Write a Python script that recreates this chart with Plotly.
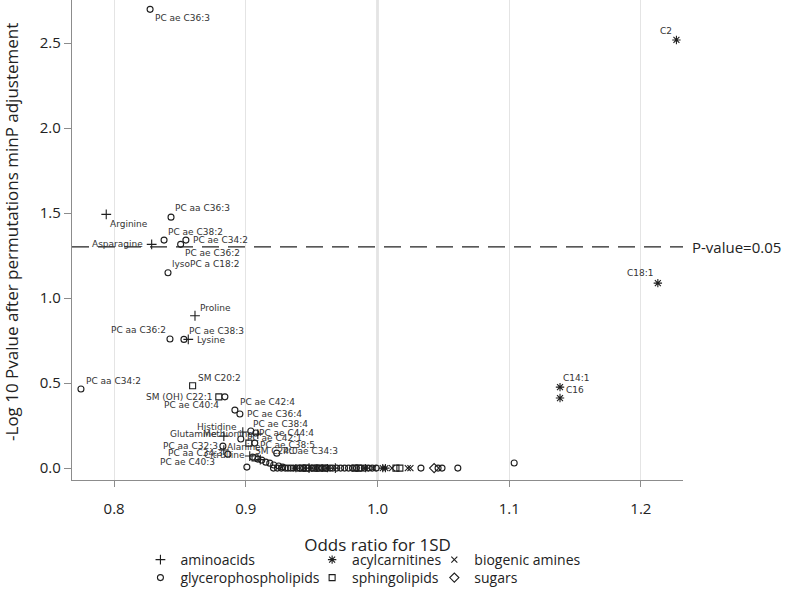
import plotly.graph_objects as go

# ---------------- data (odds ratio for 1SD, -log10 adjusted p) ----------------
aa_names = ["Arginine", "Asparagine", "Proline", "Lysine", "Histidine", "Methionine",
            "Glutamine", "Alanine", "Citrulline", "", "", ""]
aa_x = [0.794, 0.8285, 0.8614, 0.8563, 0.8977, 0.9091, 0.8833, 0.8833, 0.903, 0.911, 0.948, 0.968]
aa_y = [1.492, 1.316, 0.896, 0.757, 0.212, 0.200, 0.188, 0.106, 0.071, 0.050, 0.0, 0.0]

ac_names = ["C2", "C18:1", "C14:1", "C16", "", "", "", "", ""]
ac_x = [1.227, 1.2129, 1.1386, 1.1386, 0.938, 0.962, 0.991, 1.004, 1.006]
ac_y = [2.518, 1.088, 0.476, 0.412, 0.0, 0.0, 0.0, 0.0, 0.0]

ba_names = ["", "", "", ""]
ba_x = [0.997, 1.011, 1.023, 1.025]
ba_y = [0.0, 0.0, 0.0, 0.0]

gp_names = ["PC ae C36:3", "PC aa C36:3", "PC ae C38:2", "PC ae C34:2", "PC ae C36:2",
            "lysoPC a C18:2", "PC aa C36:2", "PC ae C38:3", "PC aa C34:2", "PC ae C40:4",
            "PC ae C42:4", "PC ae C36:4", "PC ae C38:4", "PC ae C44:4", "PC ae C42:1",
            "PC ae C38:5", "PC aa C32:3", "PC aa C34:3", "PC ae C34:3", "PC ae C40:3",
            "", "", "", "", "", "", "", "", "",
            "", "", "", "", "", "", "", "", "", "", "", "", "", "", "", "", "", "", "", "",
            "", "", "", "", "", "", "", "", "", "", "", "", "", ""]
gp_x = [0.8273, 0.8432, 0.8379, 0.8545, 0.8505, 0.8409, 0.8424, 0.853, 0.7748, 0.8841,
        0.8917, 0.8955, 0.9038, 0.9076, 0.8962, 0.9068, 0.8826, 0.8864, 0.9235, 0.9008,
        0.9053, 0.9091, 0.9121, 0.9152, 0.9182, 0.9212, 0.925, 0.928, 1.1038,
        0.921, 0.924, 0.927, 0.930, 0.932, 0.934, 0.936, 0.939, 0.941, 0.944, 0.947, 0.950,
        0.953, 0.955, 0.958, 0.961, 0.964, 0.966, 0.969, 0.972, 0.975, 0.978, 0.981, 0.984,
        0.987, 0.990, 0.993, 0.996, 0.999, 1.033, 1.046, 1.049, 1.061]
gp_y = [2.698, 1.476, 1.341, 1.341, 1.316, 1.149, 0.759, 0.757, 0.465, 0.419,
        0.341, 0.318, 0.218, 0.206, 0.171, 0.147, 0.129, 0.082, 0.088, 0.006,
        0.065, 0.053, 0.047, 0.035, 0.029, 0.018, 0.012, 0.006, 0.030,
        0.0, 0.0, 0.0, 0.0, 0.0, 0.0, 0.0, 0.0, 0.0, 0.0, 0.0, 0.0,
        0.0, 0.0, 0.0, 0.0, 0.0, 0.0, 0.0, 0.0, 0.0, 0.0, 0.0, 0.0,
        0.0, 0.0, 0.0, 0.0, 0.0, 0.0, 0.0, 0.0, 0.0]

sl_names = ["SM C20:2", "SM (OH) C22:1", "SM C24:0", "", "", "", "", "", "", "", "", "", ""]
sl_x = [0.8596, 0.8795, 0.9023, 0.907, 0.943, 0.946, 0.952, 0.956, 0.960, 0.983, 0.986, 1.014, 1.017]
sl_y = [0.484, 0.419, 0.147, 0.060, 0.0, 0.0, 0.0, 0.0, 0.0, 0.0, 0.0, 0.0, 0.0]

su_names = [""]
su_x = [1.043]
su_y = [0.0]

group_names = ["aminoacids", "acylcarnitines", "biogenic amines",
               "glycerophospholipids", "sphingolipids", "sugars"]

threshold_y = 1.30103  # -log10(0.05)
threshold_text = "P-value=0.05"

x_ticks = [0.8, 0.9, 1.0, 1.1, 1.2]
y_ticks = [0.0, 0.5, 1.0, 1.5, 2.0, 2.5]

# ---------------- styling ----------------
INK = "#1e1e1e"
LABEL_FONT = dict(family="DejaVu Sans", size=9, color="#333333")
AX_FONT = "Open Sans"

# label placement: anchor, dx (px), dy (px, + up)
label_pos = {
    "PC ae C36:3": ("left", 4, -9), "C2": ("right", -3, 9), "Arginine": ("left", 3, -10),
    "PC aa C36:3": ("left", 3, 9), "Asparagine": ("right", -8, 0), "PC ae C38:2": ("left", 3, 8),
    "PC ae C34:2": ("left", 6, 0), "PC ae C36:2": ("left", 3, -9), "lysoPC a C18:2": ("left", 3, 9),
    "Proline": ("left", 4, 8), "PC aa C36:2": ("right", -3, 9), "PC ae C38:3": ("left", 4, 8),
    "Lysine": ("left", 8, -1), "PC aa C34:2": ("left", 4, 8), "SM C20:2": ("left", 4, 8),
    "SM (OH) C22:1": ("right", -5, 0), "PC ae C40:4": ("right", -5, -8),
    "PC ae C42:4": ("left", 4, 8), "PC ae C36:4": ("left", 6, 0), "C18:1": ("right", -3, 10),
    "C14:1": ("left", 2, 9), "C16": ("left", 5, 8), "Histidine": ("right", -5, 5),
    "Methionine": ("right", -4, 0), "PC ae C38:4": ("left", 1, 7), "PC ae C44:4": ("left", 2, 0),
    "Glutamine": ("right", -6, 2), "PC ae C42:1": ("left", 5, 1), "PC ae C38:5": ("left", 4, -2),
    "SM C24:0": ("left", 5, -8), "PC aa C32:3": ("right", -4, 0), "Alanine": ("left", 2, 3),
    "PC aa C34:3": ("right", -4, 1), "Citrulline": ("right", -4, 1), "PC ae C34:3": ("left", 5, 2),
    "PC ae C40:3": ("right", -31, 5),
}

# legend placement (paper coords): one legend per entry, 3 columns x 2 rows
legend_xy = {
    "legend": (0.112, -0.1333), "legend2": (0.393, -0.1333), "legend3": (0.593, -0.1333),
    "legend4": (0.112, -0.1708), "legend5": (0.393, -0.1708), "legend6": (0.593, -0.1708),
}

groups = [
    (aa_names, aa_x, aa_y, "cross-thin-open", 7, "legend"),
    (ac_names, ac_x, ac_y, "asterisk-open", 7, "legend2"),
    (ba_names, ba_x, ba_y, "x-thin-open", 6, "legend3"),
    (gp_names, gp_x, gp_y, "circle-open", 6, "legend4"),
    (sl_names, sl_x, sl_y, "square-open", 6, "legend5"),
    (su_names, su_x, su_y, "diamond-open", 7, "legend6"),
]

fig = go.Figure()
annotations = []
for (names, xs, ys, sym, sz, leg), gname in zip(groups, group_names):
    fig.add_trace(go.Scatter(
        x=xs, y=ys, mode="markers", name=gname, legend=leg, text=names,
        marker=dict(symbol=sym, size=sz, color=INK, line=dict(color=INK, width=1.1)),
        hovertemplate="%{text}<br>OR=%{x}<br>-log10 p=%{y}<extra>" + gname + "</extra>",
    ))
    for n, xv, yv in zip(names, xs, ys):
        if n and n in label_pos:
            anc, dx, dy = label_pos[n]
            annotations.append(dict(
                x=xv, y=yv, xref="x", yref="y", text=n, showarrow=False,
                xanchor=anc, yanchor="middle", xshift=dx, yshift=dy,
                font=LABEL_FONT, borderpad=0))

annotations.append(dict(
    x=1.0, y=threshold_y, xref="paper", yref="y", text=threshold_text, showarrow=False,
    xanchor="left", yanchor="middle", xshift=7, font=dict(family=AX_FONT, size=15, color="#222")))
annotations.append(dict(
    x=-0.098, y=0.517, xref="paper", yref="paper", textangle=-90, showarrow=False,
    text="-Log 10 Pvalue after permutations minP adjustement",
    font=dict(family=AX_FONT, size=17, color="#222"), xanchor="center", yanchor="middle"))

shapes = [
    dict(type="line", xref="x", yref="paper", x0=1.0, x1=1.0, y0=0, y1=1,
         line=dict(color="#9c9c9c", width=1.5), layer="below"),
    dict(type="line", xref="paper", yref="y", x0=0, x1=1, y0=threshold_y, y1=threshold_y,
         line=dict(color="#222", width=1.4, dash="17px,9px")),
]

leg_common = dict(orientation="v", yanchor="top", xanchor="left",
                  font=dict(family=AX_FONT, size=14, color="#222"), itemwidth=30,
                  bgcolor="rgba(0,0,0,0)")
legends = {k: dict(x=v[0], y=v[1], **leg_common) for k, v in legend_xy.items()}

fig.update_layout(
    width=787, height=591,
    margin=dict(l=72, r=104, t=0, b=111, autoexpand=False),
    paper_bgcolor="white", plot_bgcolor="white",
    showlegend=True,
    **legends,
    xaxis=dict(range=[0.768, 1.232], tickvals=x_ticks, tickformat=".1f", automargin=False,
               showgrid=True, gridcolor="#e4e4e4", gridwidth=1.2, zeroline=False,
               showline=True, linecolor="#8c8c8c", linewidth=1.3,
               ticks="outside", ticklen=6, tickcolor="#8c8c8c", ticklabelstandoff=9,
               tickfont=dict(family=AX_FONT, size=15, color="#222"),
               title=dict(text="Odds ratio for 1SD", standoff=21,
                          font=dict(family=AX_FONT, size=17, color="#222"))),
    yaxis=dict(range=[-0.07, 2.753], tickvals=y_ticks, tickformat=".1f", automargin=False,
               showgrid=False, zeroline=False,
               showline=True, linecolor="#8c8c8c", linewidth=1.3,
               ticks="outside", ticklen=7, tickcolor="#8c8c8c",
               tickfont=dict(family=AX_FONT, size=15, color="#222")),
    annotations=annotations,
    shapes=shapes,
)

fig.write_html("out.html", config={"displayModeBar": False},
               post_script="document.body.style.margin='0';")
